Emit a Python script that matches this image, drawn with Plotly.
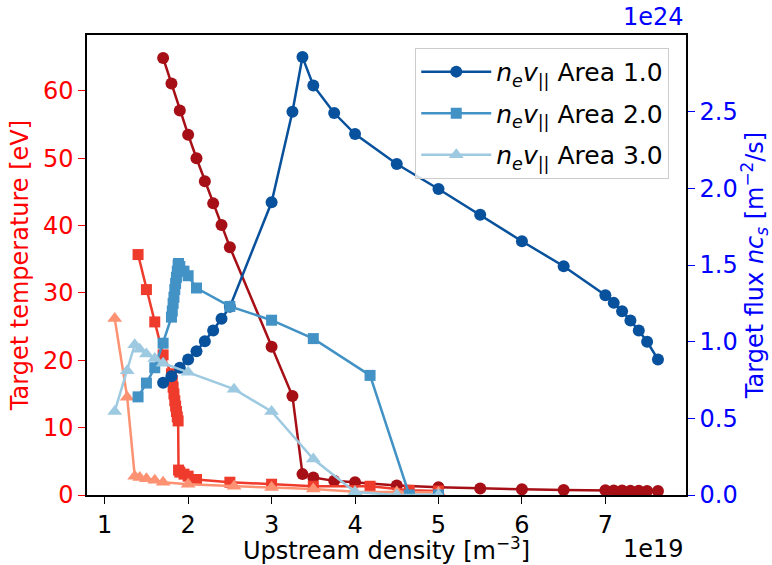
import plotly.graph_objects as go

# Upstream density in units of 1e19 m^-3
n_up_area1 = [1.7, 1.8, 1.9, 2.0, 2.1, 2.2, 2.3, 2.4, 2.5, 3.0, 3.25, 3.37, 3.5, 3.75, 4.0,
              4.5, 5.0, 5.5, 6.0, 6.5, 7.0, 7.1, 7.2, 7.3, 7.4, 7.5, 7.63]
temp_area1 = [64.9, 61.1, 57.1, 53.5, 50.0, 46.6, 43.3, 40.1, 36.8, 22.0, 14.7, 3.1, 2.6, 2.1, 1.9,
              1.4, 1.15, 0.95, 0.85, 0.75, 0.7, 0.68, 0.66, 0.64, 0.62, 0.6, 0.58]
flux_area1 = [0.732, 0.775, 0.83, 0.884, 0.938, 1.003, 1.073, 1.149, 1.227, 1.909, 2.50, 2.856, 2.671,
              2.491, 2.354, 2.159, 1.996, 1.827, 1.655, 1.492, 1.303, 1.253, 1.199, 1.138, 1.073,
              0.999, 0.884]

n_up_area2 = [1.4, 1.5, 1.6, 1.7, 1.8, 1.81, 1.82, 1.83, 1.84, 1.85, 1.86, 1.87, 1.88, 1.885,
              1.9, 1.95, 2.0, 2.1, 2.5, 3.0, 3.5, 4.18, 4.65, 5.0]
temp_area2 = [35.7, 30.5, 25.7, 20.8, 18.0, 17.0, 16.0, 15.0, 14.0, 13.2, 12.4, 11.6, 11.0, 3.7,
              3.4, 3.1, 2.8, 2.3, 1.9, 1.6, 1.3, 1.3, 0.7, 0.6]
flux_area2 = [0.64, 0.73, 0.83, 0.99, 1.16, 1.20, 1.25, 1.29, 1.34, 1.38, 1.42, 1.46, 1.50, 1.51,
              1.49, 1.46, 1.43, 1.35, 1.23, 1.14, 1.02, 0.78, 0.0, 0.0]

n_up_area3 = [1.12, 1.27, 1.36, 1.42, 1.5, 1.6, 1.7, 2.0, 2.55, 3.0, 3.5, 4.0, 4.5, 5.0]
temp_area3 = [26.2, 14.5, 2.8, 2.6, 2.4, 2.2, 1.9, 1.6, 1.3, 1.1, 0.9, 0.5, 0.45, 0.4]
flux_area3 = [0.545, 0.81, 0.98, 0.95, 0.92, 0.89, 0.86, 0.80, 0.69, 0.545, 0.235, 0.02, 0.0, 0.0]

x_ticks = [1, 2, 3, 4, 5, 6, 7]
y1_ticks = [0, 10, 20, 30, 40, 50, 60]
y2_ticks = [0.0, 0.5, 1.0, 1.5, 2.0, 2.5]

FONT = "DejaVu Sans"
FS = 24

temp_colors = ["#a50f15", "#ef3b2c", "#fc9272"]
flux_colors = ["#08519c", "#4292c6", "#9ecae1"]
symbols = ["circle", "square", "triangle-up"]
msizes = [12, 11, 13]

fig = go.Figure()

xs = [n_up_area1, n_up_area2, n_up_area3]
temps = [temp_area1, temp_area2, temp_area3]
fluxes = [flux_area1, flux_area2, flux_area3]
areas = ["1.0", "2.0", "3.0"]

for i in range(3):
    fig.add_trace(go.Scatter(
        x=xs[i], y=temps[i], mode="lines+markers", yaxis="y", showlegend=False,
        line=dict(color=temp_colors[i], width=2.5),
        marker=dict(symbol=symbols[i], size=msizes[i], color=temp_colors[i]),
    ))

for i in range(3):
    fig.add_trace(go.Scatter(
        x=xs[i], y=fluxes[i], mode="lines+markers", yaxis="y2",
        legendgroup="g%d" % i,
        name="<i>n</i><sub><i>e</i></sub><i>v</i><sub>||</sub> Area " + areas[i],
        line=dict(color=flux_colors[i], width=2.5),
        marker=dict(symbol=symbols[i], size=msizes[i], color=flux_colors[i]),
    ))

fig.update_layout(
    width=772, height=565,
    margin=dict(l=87, r=86, t=35, b=70),
    paper_bgcolor="white", plot_bgcolor="white",
    font=dict(family=FONT, size=FS, color="black"),
    xaxis=dict(
        range=[0.788, 7.966], tickvals=x_ticks, ticktext=[str(v) for v in x_ticks],
        showgrid=False, zeroline=False, showline=True, linecolor="black", linewidth=1.5,
        mirror=True, ticks="outside", ticklen=7, tickwidth=1.3, tickcolor="black",
        tickfont=dict(size=FS, color="black"), automargin=False,
        title=dict(text="Upstream density [m<sup>\u22123</sup>]", font=dict(size=FS), standoff=6),
    ),
    yaxis=dict(
        range=[0, 68.3], tickvals=y1_ticks, ticktext=[str(v) for v in y1_ticks],
        showgrid=False, zeroline=False, showline=True, linecolor="black", linewidth=1.5,
        ticks="outside", ticklen=7, tickwidth=1.3, tickcolor="red",
        tickfont=dict(size=FS, color="red"), automargin=False,
        title=dict(text="Target temperature [eV]", font=dict(size=FS, color="red"), standoff=8),
    ),
    yaxis2=dict(
        range=[0, 3.0], overlaying="y", side="right", tickvals=y2_ticks,
        ticktext=["%.1f" % v for v in y2_ticks],
        showgrid=False, zeroline=False, showline=True, linecolor="black", linewidth=1.5,
        ticks="outside", ticklen=7, tickwidth=1.3, tickcolor="blue",
        tickfont=dict(size=FS, color="blue"), automargin=False,
        title=dict(text="Target flux <i>nc</i><sub><i>s</i></sub> [m<sup>\u22122</sup>/s]",
                   font=dict(size=FS, color="blue"), standoff=8),
    ),
    legend=dict(
        x=0.548, y=0.972, xanchor="left", yanchor="top",
        bgcolor="rgba(255,255,255,0.8)", bordercolor="#cccccc", borderwidth=1,
        font=dict(size=25, color="black"), itemwidth=70, tracegroupgap=6,
    ),
    annotations=[
        dict(text="1e24", x=1.0, y=1.0, xref="paper", yref="paper", xanchor="right",
             yanchor="bottom", yshift=2, showarrow=False, font=dict(size=FS, color="blue")),
        dict(text="1e19", x=1.0, y=0, xref="paper", yref="paper", xanchor="right",
             yanchor="top", yshift=-38, showarrow=False, font=dict(size=FS, color="black")),
    ],
)

fig.write_html("out.html")
